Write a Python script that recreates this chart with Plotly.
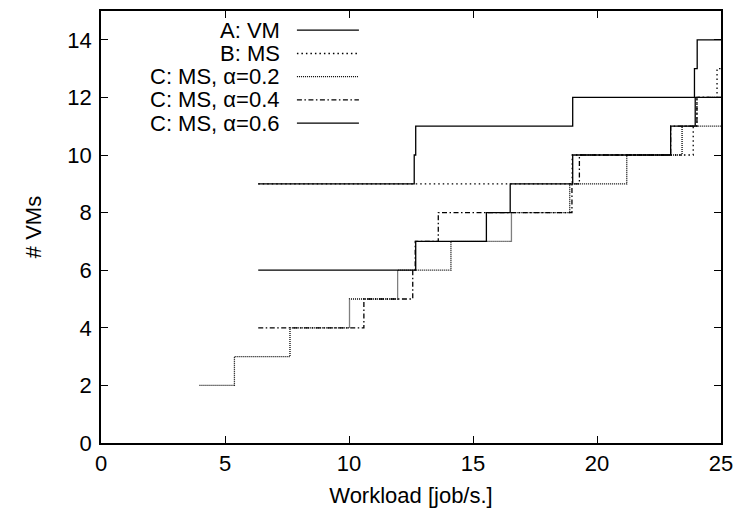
import plotly.graph_objects as go

# Step breakpoints: each series holds its level from x[i] up to x[i+1]
a_vm_x = [6.34, 12.63, 12.69, 19.02, 23.93, 24.04, 25.0]
a_vm_y = [9, 10, 11, 12, 13, 14, 14]

b_ms_x = [6.34, 19.0, 23.88, 24.03, 24.84, 25.0]
b_ms_y = [9, 10, 11, 12, 13, 13]

c_02_x = [3.97, 5.38, 7.62, 10.02, 11.96, 14.11, 16.55, 18.9, 21.2, 23.43, 25.0]
c_02_y = [2, 3, 4, 5, 6, 7, 8, 9, 10, 11, 11]

c_04_x = [6.34, 10.6, 12.57, 12.67, 13.6, 18.99, 19.29, 22.97, 24.03, 25.0]
c_04_y = [4, 5, 6, 7, 8, 9, 10, 11, 12, 12]

c_06_x = [6.34, 12.69, 15.54, 16.5, 19.02, 22.97, 23.96, 25.0]
c_06_y = [6, 7, 8, 9, 10, 11, 12, 12]

series_names = ["A: VM", "B: MS", "C: MS, \u03b1=0.2", "C: MS, \u03b1=0.4", "C: MS, \u03b1=0.6"]
series_data = [(a_vm_x, a_vm_y), (b_ms_x, b_ms_y), (c_02_x, c_02_y), (c_04_x, c_04_y), (c_06_x, c_06_y)]
series_dash = ["solid", "1.5px,3px", "1px,1px", "5px,2.5px,1.5px,2.5px", "solid"]

x_ticks = [0, 5, 10, 15, 20, 25]
y_ticks = [0, 2, 4, 6, 8, 10, 12, 14]

FONT = "Liberation Sans, Arial, sans-serif"
FS = 22
LW = 1.3

fig = go.Figure()
for name, (xs, ys), dash in zip(series_names, series_data, series_dash):
    fig.add_trace(go.Scatter(
        x=xs, y=ys, mode="lines", name=name, line_shape="hv",
        line=dict(color="black", width=LW, dash=dash), showlegend=False,
    ))

# Key: right-aligned labels with line samples to their right
key_text_x = 0.292
key_line_x0, key_line_x1 = 0.316, 0.416
key_rows = [0.9555, 0.9016, 0.8479, 0.7942, 0.7403]
for name, dash, yk in zip(series_names, series_dash, key_rows):
    fig.add_annotation(xref="paper", yref="paper", x=key_text_x, y=yk,
                       text=name, showarrow=False, xanchor="right", yanchor="middle",
                       font=dict(family=FONT, size=FS, color="black"))
    fig.add_shape(type="line", xref="paper", yref="paper",
                  x0=key_line_x0, x1=key_line_x1, y0=yk, y1=yk,
                  line=dict(color="black", width=LW, dash=dash))

axis_common = dict(
    showgrid=False, zeroline=False, showline=True, linecolor="black", linewidth=1.5,
    mirror="ticks", ticks="inside", ticklen=7, tickcolor="black", tickwidth=1.2,
    tickfont=dict(family=FONT, size=FS, color="black"),
)

fig.update_layout(
    width=742, height=515,
    margin=dict(l=101, r=18, t=9, b=72),
    paper_bgcolor="white", plot_bgcolor="white",
    xaxis=dict(range=[0, 25], tickvals=x_ticks, ticktext=[str(v) for v in x_ticks],
               title=dict(text="Workload [job/s.]", font=dict(family=FONT, size=FS, color="black"), standoff=12),
               **axis_common),
    yaxis=dict(range=[0, 15], tickvals=y_ticks, ticktext=[str(v) for v in y_ticks],
               ticklabelstandoff=3,
               title=dict(text="# VMs", font=dict(family=FONT, size=FS, color="black"), standoff=20),
               **axis_common),
)

fig.write_html("out.html")
